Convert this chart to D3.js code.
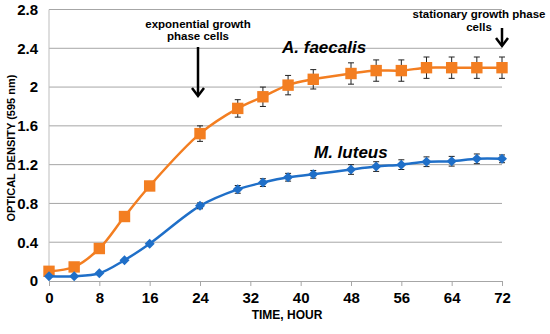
<!DOCTYPE html>
<html>
<head>
<meta charset="utf-8">
<script src="https://cdn.jsdelivr.net/npm/d3@7"></script>
<style>
  body { margin: 0; background: #fff; }
  text { font-family: Arial, "Liberation Sans", sans-serif; font-weight: bold; }
</style>
</head>
<body>
<svg id="chart" width="550" height="334"></svg>
<script>
// time points (hours)
const hours = [0, 4, 8, 12, 16, 24, 30, 34, 38, 42, 48, 52, 56, 60, 64, 68, 72]
// A. faecalis optical density
const faecalis = [0.10, 0.145, 0.335, 0.665, 0.98, 1.52, 1.78, 1.90, 2.02, 2.08, 2.14, 2.17, 2.17, 2.20, 2.20, 2.20, 2.20]
const faecalisErr = [0, 0, 0, 0, 0, 0.08, 0.09, 0.10, 0.10, 0.10, 0.11, 0.11, 0.11, 0.11, 0.11, 0.11, 0.11]
// M. luteus optical density
const luteus = [0.05, 0.05, 0.08, 0.215, 0.385, 0.775, 0.945, 1.015, 1.07, 1.10, 1.15, 1.18, 1.20, 1.23, 1.235, 1.26, 1.26]
const luteusErr = [0, 0, 0, 0, 0, 0.03, 0.04, 0.04, 0.04, 0.04, 0.05, 0.05, 0.05, 0.05, 0.05, 0.05, 0.04]

const xTicks = [0, 8, 16, 24, 32, 40, 48, 56, 64, 72]
const yTicks = [0, 0.4, 0.8, 1.2, 1.6, 2, 2.4, 2.8]

const svg = d3.select("#chart")

let x = d3.scaleLinear().domain([0, 72]).range([49, 502])
let y = d3.scaleLinear().domain([0, 2.8]).range([281, 9.5])

// grid
svg.append("g")
    .selectAll("line")
    .data(yTicks.slice(1))
    .enter().append("line")
    .attr("x1", x(0)).attr("x2", x(72))
    .attr("y1", d => y(d)).attr("y2", d => y(d))
    .attr("stroke", "#a6a6a6").attr("stroke-width", 1)

// y axis line
svg.append("line")
    .attr("x1", x(0)).attr("x2", x(0))
    .attr("y1", y(0)).attr("y2", y(2.8))
    .attr("stroke", "#bdbdbd")

// x axis
let xAxis = svg.append("g")
    .attr("transform", "translate(0," + y(0) + ")")
    .call(d3.axisBottom(x).tickValues(xTicks).tickSize(5).tickSizeOuter(0).tickPadding(6))
xAxis.select(".domain").attr("stroke", "#a6a6a6")
xAxis.selectAll(".tick line").attr("stroke", "#a6a6a6")
xAxis.selectAll("text").attr("font-size", 15).attr("fill", "#000")
    .attr("font-family", "Arial, 'Liberation Sans', sans-serif").attr("font-weight", "bold")

// y axis labels
let yAxis = svg.append("g")
    .attr("transform", "translate(" + x(0) + ",0)")
    .call(d3.axisLeft(y).tickValues(yTicks).tickFormat(d3.format("")).tickSize(0).tickPadding(11))
yAxis.select(".domain").remove()
yAxis.selectAll("text").attr("font-size", 15).attr("fill", "#000")
    .attr("font-family", "Arial, 'Liberation Sans', sans-serif").attr("font-weight", "bold")

// axis titles
svg.append("text")
    .attr("transform", "translate(15,148) rotate(-90)")
    .attr("text-anchor", "middle")
    .attr("font-size", 11)
    .text("OPTICAL DENSITY (595 nm)")

svg.append("text")
    .attr("x", 287).attr("y", 319)
    .attr("text-anchor", "middle")
    .attr("font-size", 12)
    .text("TIME, HOUR")

let line = d3.line().curve(d3.curveCatmullRom.alpha(0.5))
    .x(d => x(d[0])).y(d => y(d[1]))

function drawSeries(vals, errs, color, size, diamond) {
    let pts = hours.map((h, i) => [h, vals[i], errs[i]])
    svg.append("path")
        .datum(pts)
        .attr("d", line)
        .attr("fill", "none")
        .attr("stroke", color)
        .attr("stroke-width", 2.5)

    // error bars
    let eb = svg.append("g").attr("stroke", "#222").attr("stroke-width", 1)
    pts.filter(d => d[2] > 0).forEach(d => {
        let cx = x(d[0])
        eb.append("line").attr("x1", cx).attr("x2", cx).attr("y1", y(d[1] - d[2])).attr("y2", y(d[1] + d[2]))
        eb.append("line").attr("x1", cx - 3).attr("x2", cx + 3).attr("y1", y(d[1] - d[2])).attr("y2", y(d[1] - d[2]))
        eb.append("line").attr("x1", cx - 3).attr("x2", cx + 3).attr("y1", y(d[1] + d[2])).attr("y2", y(d[1] + d[2]))
    })

    svg.append("g")
        .selectAll("path")
        .data(pts)
        .enter().append("path")
        .attr("d", d3.symbol().type(d3.symbolSquare).size(size))
        .attr("transform", d => "translate(" + x(d[0]) + "," + y(d[1]) + ")" + (diamond ? " rotate(45)" : ""))
        .attr("fill", color)
}

drawSeries(faecalis, faecalisErr, "#f37e21", 130, false)
drawSeries(luteus, luteusErr, "#1f6fc8", 50, true)

// series labels
svg.append("text")
    .attr("x", 282).attr("y", 53)
    .attr("font-size", 17).attr("font-style", "italic")
    .text("A. faecalis")

svg.append("text")
    .attr("x", 314).attr("y", 158)
    .attr("font-size", 17).attr("font-style", "italic")
    .text("M. luteus")

// annotations
svg.append("text").attr("x", 198).attr("y", 28).attr("text-anchor", "middle").attr("font-size", 11.5)
    .text("exponential growth")
svg.append("text").attr("x", 198).attr("y", 40).attr("text-anchor", "middle").attr("font-size", 11.5)
    .text("phase cells")

svg.append("text").attr("x", 479).attr("y", 18).attr("text-anchor", "middle").attr("font-size", 11.5)
    .text("stationary growth phase")
svg.append("text").attr("x", 479).attr("y", 31).attr("text-anchor", "middle").attr("font-size", 11.5)
    .text("cells")

function arrow(ax, y1, y2) {
    svg.append("line").attr("x1", ax).attr("x2", ax).attr("y1", y1).attr("y2", y2 - 1)
        .attr("stroke", "#000").attr("stroke-width", 2.5)
    svg.append("path")
        .attr("d", "M" + (ax - 6) + "," + (y2 - 8) + " L" + ax + "," + y2 + " L" + (ax + 6) + "," + (y2 - 8))
        .attr("fill", "none").attr("stroke", "#000").attr("stroke-width", 2.5)
}
arrow(198, 47, 96)
arrow(502, 28, 46)
</script>
</body>
</html>
